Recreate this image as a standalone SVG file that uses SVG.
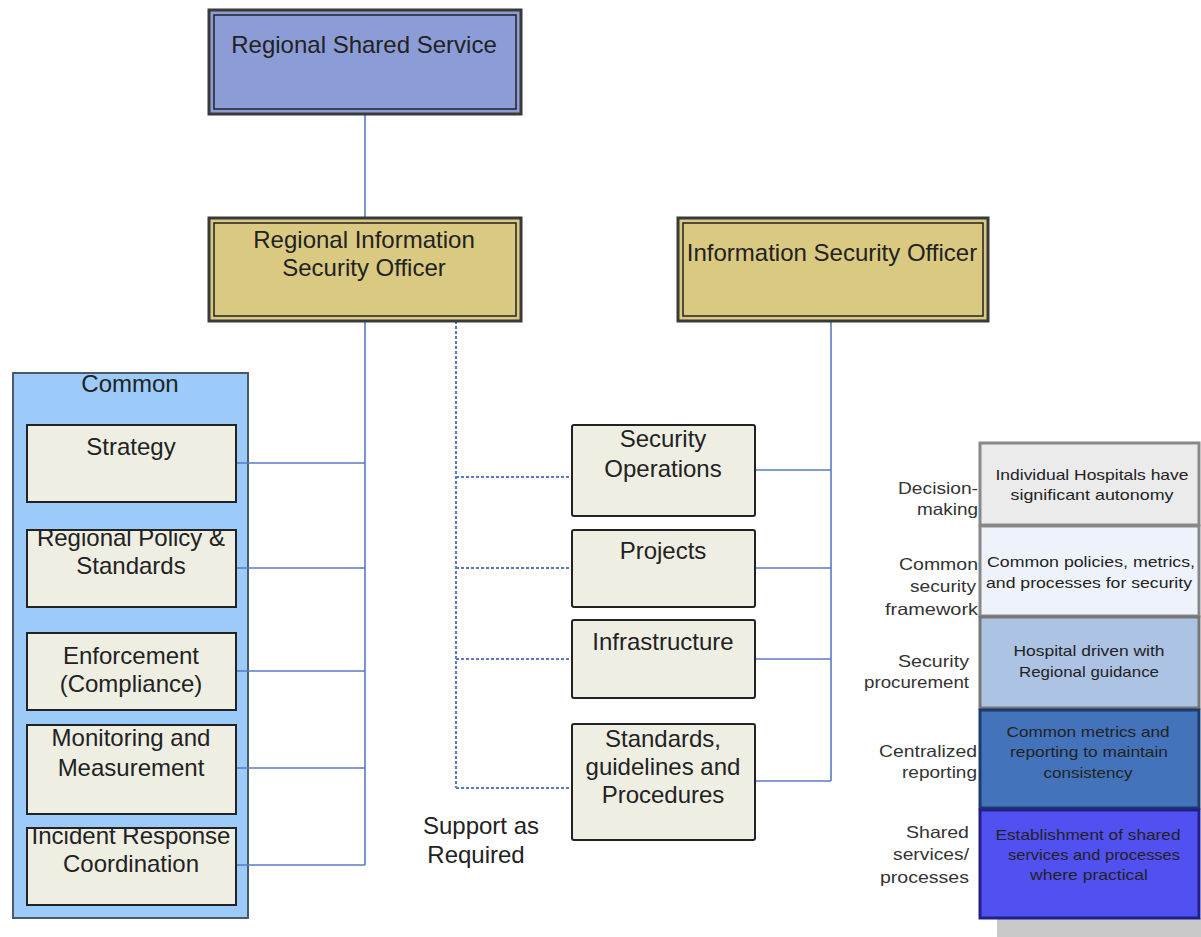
<svg xmlns="http://www.w3.org/2000/svg" width="1201" height="937" viewBox="0 0 1201 937">
<style>
text{font-family:"Liberation Sans",Arial,sans-serif;text-anchor:middle;fill:#222}
.t24{font-size:24px}
.t14{font-size:15px}
.lab{font-size:16.5px;text-anchor:start;fill:#333}
.outer{stroke:#3a3a3a;stroke-width:3}
.inner{fill:none;stroke:#222;stroke-width:1.5}
.cell{fill:#eeeee2;stroke:#222;stroke-width:2}
.ln{stroke:#5b79c4;stroke-width:1.6;fill:none}
.dl{stroke:#5b79c4;stroke-width:2;fill:none;stroke-dasharray:3,2}
</style>
<rect width="1201" height="937" fill="#fff"/>
<g id="common">
<rect x="13" y="373" width="235" height="545" fill="#9ccbfa" stroke="#4a5a6a" stroke-width="2"/>
<text class="t24" x="130" y="392">Common</text>
</g>
<g id="connectors">
<path class="ln" d="M365 114V217"/>
<path class="ln" d="M365 321V865M236 463H365M236 568H365M236 671H365M236 768H365M236 865H365"/>
<path class="dl" d="M456 321V788M456 477H572M456 568H572M456 659H572M456 788H572"/>
<path class="ln" d="M831 321V781M755 470H831M755 568H831M755 659H831M755 781H831"/>
</g>
<g id="regional-shared-service">
<rect class="outer" x="209" y="10" width="312" height="104" fill="#8c9cd7"/>
<rect class="inner" x="214" y="15" width="302" height="94"/>
<text class="t24" x="364" y="53">Regional Shared Service</text>
</g>
<g id="riso">
<rect class="outer" x="209" y="218" width="312" height="103" fill="#d9c981"/>
<rect class="inner" x="214" y="223" width="302" height="93"/>
<text class="t24" x="364" y="248">Regional Information</text>
<text class="t24" x="364" y="276">Security Officer</text>
</g>
<g id="iso">
<rect class="outer" x="678" y="218" width="310" height="103" fill="#d9c981"/>
<rect class="inner" x="683" y="223" width="300" height="93"/>
<text class="t24" x="832" y="261">Information Security Officer</text>
</g>
<g id="strategy">
<rect class="cell" x="27" y="425" width="209" height="77"/>
<text class="t24" x="131" y="455">Strategy</text>
</g>
<g id="policy">
<rect class="cell" x="27" y="530" width="209" height="77"/>
<text class="t24" x="131" y="546">Regional Policy &amp;</text>
<text class="t24" x="131" y="574">Standards</text>
</g>
<g id="enforcement">
<rect class="cell" x="27" y="633" width="209" height="77"/>
<text class="t24" x="131" y="664">Enforcement</text>
<text class="t24" x="131" y="692">(Compliance)</text>
</g>
<g id="monitoring">
<rect class="cell" x="27" y="725" width="209" height="89"/>
<text class="t24" x="131" y="746">Monitoring and</text>
<text class="t24" x="131" y="776">Measurement</text>
</g>
<g id="incident">
<rect class="cell" x="27" y="828" width="209" height="77"/>
<text class="t24" x="131" y="844">Incident Response</text>
<text class="t24" x="131" y="872">Coordination</text>
</g>
<g id="secops">
<rect class="cell" x="572" y="425" width="183" height="91" rx="2"/>
<text class="t24" x="663" y="447">Security</text>
<text class="t24" x="663" y="477">Operations</text>
</g>
<g id="projects">
<rect class="cell" x="572" y="530" width="183" height="77" rx="2"/>
<text class="t24" x="663" y="559">Projects</text>
</g>
<g id="infrastructure">
<rect class="cell" x="572" y="620" width="183" height="78" rx="2"/>
<text class="t24" x="663" y="650">Infrastructure</text>
</g>
<g id="standards">
<rect class="cell" x="572" y="724" width="183" height="116" rx="2"/>
<text class="t24" x="663" y="747">Standards,</text>
<text class="t24" x="663" y="775">guidelines and</text>
<text class="t24" x="663" y="803">Procedures</text>
</g>
<g id="support-label">
<text class="t24" x="481" y="834">Support as</text>
<text class="t24" x="476" y="863">Required</text>
</g>
<g id="stack">
<rect x="997" y="918" width="204" height="19" fill="#c8c8c8"/>
<rect x="980" y="443" width="219" height="82" fill="#ebebeb" stroke="#888" stroke-width="3"/>
<rect x="980" y="526" width="219" height="90" fill="#eef3fb" stroke="#888" stroke-width="3"/>
<rect x="980" y="617" width="219" height="91" fill="#adc3e4" stroke="#777" stroke-width="3"/>
<rect x="980" y="710" width="219" height="98" fill="#4373bb" stroke="#1e3a6a" stroke-width="3"/>
<rect x="980" y="810" width="219" height="108" fill="#5151f1" stroke="#20208a" stroke-width="3"/>
<text class="t14" x="1092" y="480" textLength="193" lengthAdjust="spacingAndGlyphs">Individual Hospitals have</text>
<text class="t14" x="1092" y="500" textLength="163" lengthAdjust="spacingAndGlyphs">significant autonomy</text>
<text class="t14" x="1091" y="567" textLength="208" lengthAdjust="spacingAndGlyphs">Common policies, metrics,</text>
<text class="t14" x="1089" y="588" textLength="206" lengthAdjust="spacingAndGlyphs">and processes for security</text>
<text class="t14" x="1089" y="656" textLength="151" lengthAdjust="spacingAndGlyphs">Hospital driven with</text>
<text class="t14" x="1089" y="677" textLength="140" lengthAdjust="spacingAndGlyphs">Regional guidance</text>
<text class="t14" x="1088" y="737" fill="#1a2a55" textLength="163" lengthAdjust="spacingAndGlyphs">Common metrics and</text>
<text class="t14" x="1089" y="757" fill="#1a2a55" textLength="158" lengthAdjust="spacingAndGlyphs">reporting to maintain</text>
<text class="t14" x="1088" y="778" fill="#1a2a55" textLength="89" lengthAdjust="spacingAndGlyphs">consistency</text>
<text class="t14" x="1088" y="840" fill="#1a1a66" textLength="185" lengthAdjust="spacingAndGlyphs">Establishment of shared</text>
<text class="t14" x="1094" y="860" fill="#1a1a66" textLength="172" lengthAdjust="spacingAndGlyphs">services and processes</text>
<text class="t14" x="1089" y="880" fill="#1a1a66" textLength="118" lengthAdjust="spacingAndGlyphs">where practical</text>
</g>
<g id="row-labels">
<text class="lab" x="898" y="494" textLength="80" lengthAdjust="spacingAndGlyphs">Decision-</text>
<text class="lab" x="917" y="515" textLength="61" lengthAdjust="spacingAndGlyphs">making</text>
<text class="lab" x="899" y="570" textLength="79" lengthAdjust="spacingAndGlyphs">Common</text>
<text class="lab" x="910" y="592" textLength="66" lengthAdjust="spacingAndGlyphs">security</text>
<text class="lab" x="885" y="615" textLength="93" lengthAdjust="spacingAndGlyphs">framework</text>
<text class="lab" x="898" y="667" textLength="71" lengthAdjust="spacingAndGlyphs">Security</text>
<text class="lab" x="864" y="688" textLength="105" lengthAdjust="spacingAndGlyphs">procurement</text>
<text class="lab" x="879" y="757" textLength="98" lengthAdjust="spacingAndGlyphs">Centralized</text>
<text class="lab" x="902" y="778" textLength="75" lengthAdjust="spacingAndGlyphs">reporting</text>
<text class="lab" x="906" y="838" textLength="63" lengthAdjust="spacingAndGlyphs">Shared</text>
<text class="lab" x="893" y="860" textLength="76" lengthAdjust="spacingAndGlyphs">services/</text>
<text class="lab" x="880" y="883" textLength="89" lengthAdjust="spacingAndGlyphs">processes</text>
</g>
</svg>
